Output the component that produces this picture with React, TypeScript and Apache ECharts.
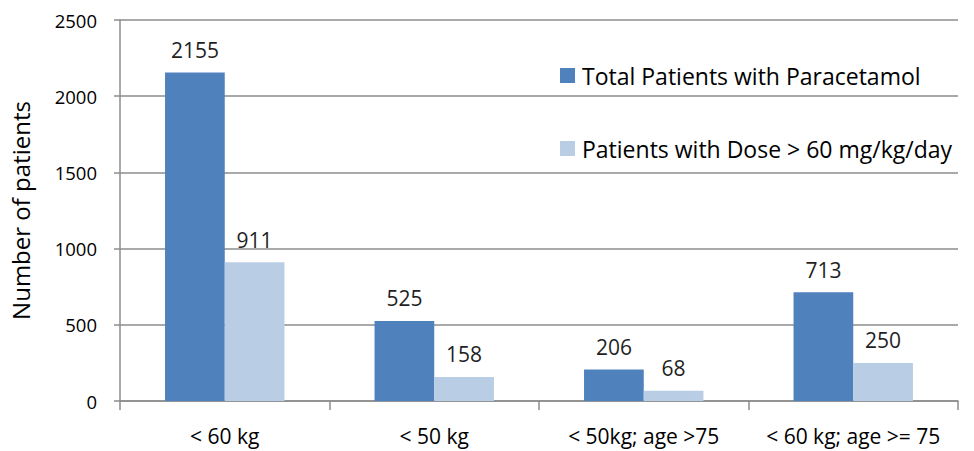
import React, { useEffect, useRef } from "react";
import * as echarts from "echarts";

const categories = ["< 60 kg", "< 50 kg", "< 50kg; age >75", "< 60 kg; age >= 75"];
const totalPatients = [2155, 525, 206, 713];
const highDosePatients = [911, 158, 68, 250];
const seriesNames = ["Total Patients with Paracetamol", "Patients with Dose > 60 mg/kg/day"];
const yAxisName = "Number of patients";

const FONT = "'Open Sans', sans-serif";

export default function App() {
  const ref = useRef<HTMLDivElement>(null);
  useEffect(() => {
    if (!ref.current) return;
    const chart = echarts.init(ref.current, null, { renderer: "svg" });
    chart.setOption({
      animation: false,
      backgroundColor: "#ffffff",
      textStyle: { fontFamily: FONT },
      grid: { left: 118, right: 16, top: 20, bottom: 50, containLabel: false },
      legend: {
        orient: "vertical",
        left: 555,
        top: 59,
        itemGap: 50,
        itemWidth: 15,
        itemHeight: 15,
        icon: "rect",
        textStyle: { fontFamily: FONT, fontSize: 23, lineHeight: 15, color: "#000000", padding: [0, 0, 0, 2] },
        data: seriesNames,
      },
      xAxis: {
        type: "category",
        data: categories,
        axisLine: { lineStyle: { color: "#8c8c8c", width: 1.5 } },
        axisTick: { show: true, length: 9, lineStyle: { color: "#8c8c8c", width: 1.5 } },
        axisLabel: { interval: 0, fontFamily: FONT, fontSize: 21, color: "#000000", margin: 24 },
      },
      yAxis: {
        type: "value",
        min: 0,
        max: 2500,
        interval: 500,
        name: yAxisName,
        nameLocation: "middle",
        nameRotate: 90,
        nameGap: 88,
        nameTextStyle: { fontFamily: FONT, fontSize: 24, color: "#000000" },
        axisLine: { show: true, lineStyle: { color: "#8c8c8c", width: 1.5 } },
        axisTick: { show: true, length: 6, lineStyle: { color: "#8c8c8c", width: 1.5 } },
        axisLabel: {
          fontFamily: FONT,
          fontSize: 18.5,
          color: "#000000",
          margin: 23,
          formatter: (v: number) => String(v),
        },
        splitLine: { show: true, lineStyle: { color: "#8c8c8c", width: 1.5 } },
      },
      series: [
        {
          name: seriesNames[0],
          type: "bar",
          data: totalPatients,
          barGap: "0%",
          barCategoryGap: "43%",
          itemStyle: { color: "#4F81BD" },
          label: { show: true, position: "top", distance: 12, fontFamily: FONT, fontSize: 21, color: "#1f1f1f" },
        },
        {
          name: seriesNames[1],
          type: "bar",
          data: highDosePatients,
          barGap: "0%",
          barCategoryGap: "43%",
          itemStyle: { color: "#B9CDE5" },
          label: { show: true, position: "top", distance: 12, fontFamily: FONT, fontSize: 21, color: "#1f1f1f" },
        },
      ],
    });
    return () => chart.dispose();
  }, []);
  return <div ref={ref} style={{ width: 974, height: 451, position: "absolute", left: 0, top: 0 }} />;
}
